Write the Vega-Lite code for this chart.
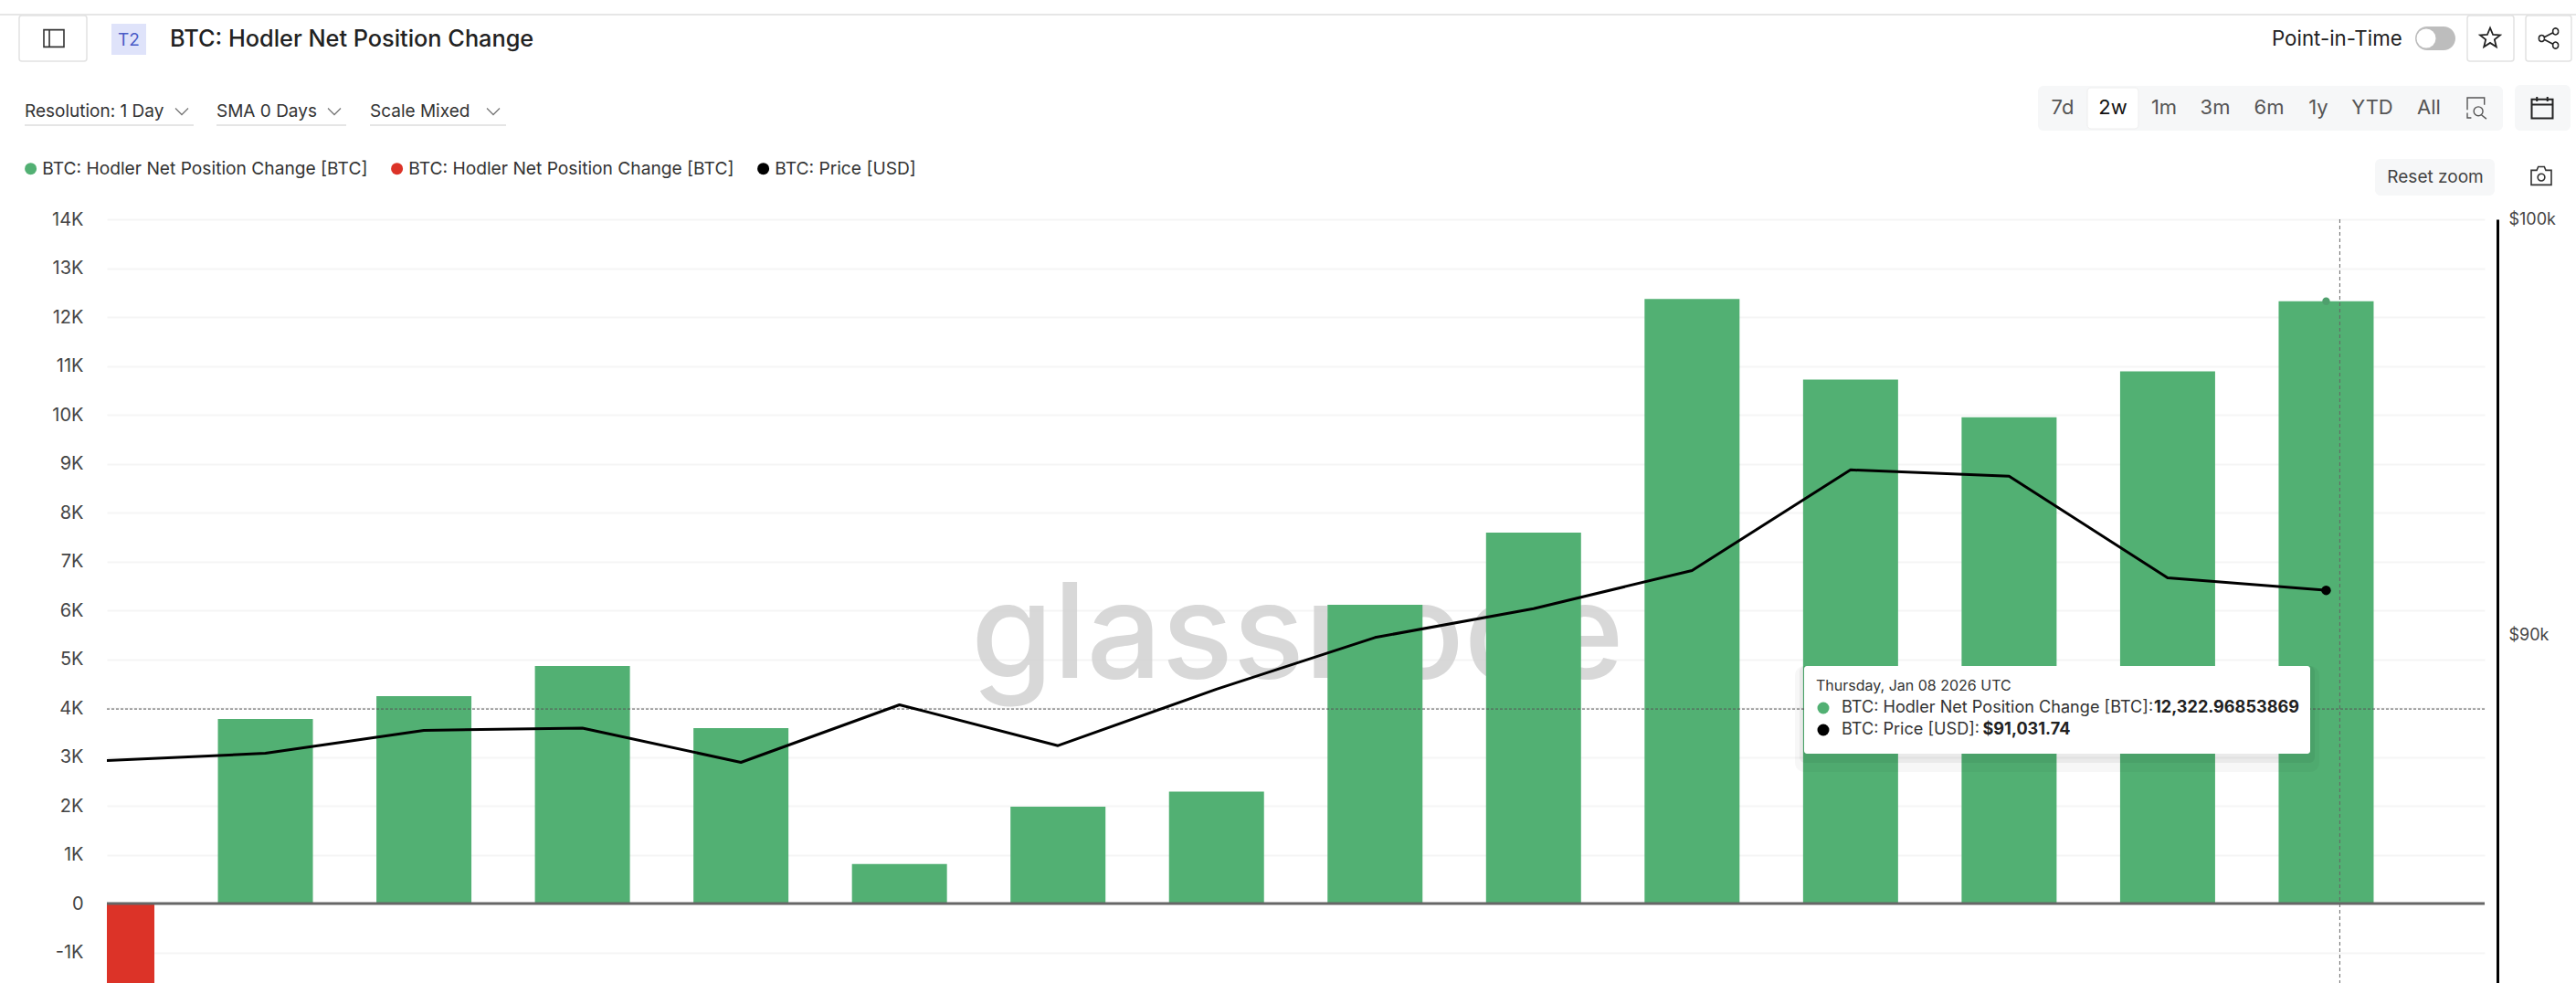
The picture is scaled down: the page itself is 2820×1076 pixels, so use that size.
{
"$schema":"https://vega.github.io/schema/vega-lite/v6.json",
"width":2603,"height":836,
"autosize":{"type":"none"},
"padding":{"left":117,"top":240,"right":100,"bottom":0},
"background":"#ffffff",
"config":{"view":{"stroke":null},"font":"Inter","text":{"font":"Inter"}},
"datasets":{"rows":[
{"date":"2025-12-25T00:00:00Z","change":-2400,"direction":"loss","price":87190},
{"date":"2025-12-26T00:00:00Z","change":3776,"direction":"gain","price":87350},
{"date":"2025-12-27T00:00:00Z","change":4243,"direction":"gain","price":87860},
{"date":"2025-12-28T00:00:00Z","change":4860,"direction":"gain","price":87910},
{"date":"2025-12-29T00:00:00Z","change":3589,"direction":"gain","price":87150},
{"date":"2025-12-30T00:00:00Z","change":810,"direction":"gain","price":88430},
{"date":"2025-12-31T00:00:00Z","change":1980,"direction":"gain","price":87520},
{"date":"2026-01-01T00:00:00Z","change":2290,"direction":"gain","price":88780},
{"date":"2026-01-02T00:00:00Z","change":6110,"direction":"gain","price":89950},
{"date":"2026-01-03T00:00:00Z","change":7590,"direction":"gain","price":90610},
{"date":"2026-01-04T00:00:00Z","change":12370,"direction":"gain","price":91490},
{"date":"2026-01-05T00:00:00Z","change":10720,"direction":"gain","price":93850},
{"date":"2026-01-06T00:00:00Z","change":9950,"direction":"gain","price":93700},
{"date":"2026-01-07T00:00:00Z","change":10890,"direction":"gain","price":91320},
{"date":"2026-01-08T00:00:00Z","change":12322.96853869,"direction":"gain","price":91031.74}
]},
"layer":[
{"layer":[
{"data":{"values":[{"when":"2026-01-01T12:15:00Z","change":4617,"mark":"glassnode"}]},
"mark":{"type":"text","fontSize":145,"fontWeight":500,"font":"Inter","color":"#d2d2d2","opacity":0.85,"align":"center","baseline":"alphabetic"},
"encoding":{"x":{"field":"when","type":"temporal","axis":null,"scale":{"type":"utc","padding":0,"domain":["2025-12-25T00:00:00Z","2026-01-09T00:00:00Z"]}},"y":{"field":"change","type":"quantitative"},"text":{"field":"mark"}}},
{"data":{"name":"rows"},
"mark":{"type":"bar","width":104,"clip":true},
"encoding":{
"x":{"field":"date","type":"temporal","axis":null,"scale":{"type":"utc","padding":0,"domain":["2025-12-25T00:00:00Z","2026-01-09T00:00:00Z"]}},
"y":{"field":"change","type":"quantitative","title":null,"scale":{"domain":[-1626,14000],"nice":false,"zero":false},
"axis":{"values":[-1000,0,1000,2000,3000,4000,5000,6000,7000,8000,9000,10000,11000,12000,13000,14000],"labelExpr":"datum.value==0?'0':(datum.value/1000)+'K'","domain":false,"ticks":false,"labelPadding":26,"labelFontSize":20,"labelFont":"Inter","labelColor":"#444444","gridColor":"#f5f5f5","gridWidth":2,"labelOverlap":false}},
"color":{"field":"direction","type":"nominal","scale":{"domain":["gain","loss","price"],"range":["#52b073","#dc3328","#000000"]},
"legend":{"title":null,"orient":"none","legendX":-93,"legendY":-65,"direction":"horizontal","symbolType":"circle","symbolSize":169,"labelFont":"Inter","labelFontSize":19.2,"labelColor":"#333333","labelOffset":3,"columnPadding":22,"labelLimit":500,"symbolStrokeWidth":0,"labelExpr":"datum.value=='price'?'BTC: Price [USD]':'BTC: Hodler Net Position Change [BTC]'","encode":{"symbols":{"update":{"fill":{"scale":"color","field":"value"},"opacity":{"value":1}}}}}}
}},
{"data":{"name":"rows"},"transform":[{"filter":{"field":"price","equal":91031.74}}],
"mark":{"type":"point","filled":true,"size":70,"color":"#4f9f6d","opacity":1},
"encoding":{"x":{"field":"date","type":"temporal"},"y":{"field":"change","type":"quantitative"}}},
{"data":{"values":[{"level":0}]},"mark":{"type":"rule","color":"#666666","strokeWidth":3},"encoding":{"y":{"field":"level","type":"quantitative"}}},
{"data":{"values":[{"level":3980}]},"mark":{"type":"rule","color":"#555555","strokeWidth":1,"strokeDash":[3,2]},"encoding":{"y":{"field":"level","type":"quantitative"}}},
{"data":{"values":[{"when":"2026-01-08T02:04:00Z"}]},"mark":{"type":"rule","color":"#666666","strokeWidth":1,"strokeDash":[4,3]},"encoding":{"x":{"field":"when","type":"temporal"}}}
]},
{"encoding":{"x":{"field":"date","type":"temporal","axis":null,"scale":{"type":"utc","domain":["2025-12-25T00:00:00Z","2026-01-09T00:00:00Z"]}},
"y":{"field":"price","type":"quantitative","title":null,"scale":{"type":"log","domain":[82414,100000],"nice":false},
"axis":{"orient":"right","values":[90000,100000],"labelExpr":"'$'+(datum.value/1000)+'k'","grid":false,"ticks":false,"domain":true,"domainColor":"#000000","domainWidth":3,"offset":14,"labelPadding":12,"labelFontSize":18,"labelFont":"Inter","labelColor":"#444444","labelOverlap":false}}},
"layer":[
{"data":{"name":"rows"},"mark":{"type":"line","strokeWidth":3,"clip":true,"strokeJoin":"round"},"encoding":{"color":{"datum":"price"}}},
{"data":{"name":"rows"},"transform":[{"filter":{"field":"price","equal":91031.74}}],"mark":{"type":"point","filled":true,"size":110,"color":"#000000","opacity":1}}
]},
{"encoding":{"x":{"field":"left","type":"quantitative","axis":null,"scale":{"domain":[117,2720],"nice":false,"zero":false}},
"y":{"field":"top","type":"quantitative","axis":null,"scale":{"domain":[1076,240],"nice":false,"zero":false}}},
"layer":[
{"data":{"values":[{"left":0,"right":2820,"top":16}]},"mark":{"type":"rule","color":"#e6e6e6","strokeWidth":2},"encoding":{"x2":{"field":"right"}}},
{"data":{"values":[{"left":21,"right":95,"top":17,"bottom":67},{"left":2701,"right":2752,"top":17,"bottom":67},{"left":2765,"right":2815,"top":17,"bottom":67}]},"mark":{"type":"rect","fill":"#ffffff","stroke":"#e2e2e2","strokeWidth":1.5,"cornerRadius":3},"encoding":{"x2":{"field":"right"},"y2":{"field":"bottom"}}},
{"data":{"values":[{"left":2231,"right":2740,"top":94,"bottom":143},{"left":2753,"right":2814,"top":93,"bottom":143},{"left":2600,"right":2731,"top":174,"bottom":214}]},"mark":{"type":"rect","fill":"#f6f7f8","cornerRadius":6},"encoding":{"x2":{"field":"right"},"y2":{"field":"bottom"}}},
{"data":{"values":[{"left":2285,"right":2341,"top":96,"bottom":141}]},"mark":{"type":"rect","fill":"#ffffff","stroke":"#eeeeee","cornerRadius":4},"encoding":{"x2":{"field":"right"},"y2":{"field":"bottom"}}},
{"data":{"values":[{"left":122,"right":160,"top":26,"bottom":60}]},"mark":{"type":"rect","fill":"#dfe3fa"},"encoding":{"x2":{"field":"right"},"y2":{"field":"bottom"}}},
{"data":{"values":[{"left":2644,"right":2688,"top":29,"bottom":55}]},"mark":{"type":"rect","fill":"#bdbdbd","cornerRadius":13},"encoding":{"x2":{"field":"right"},"y2":{"field":"bottom"}}},
{"data":{"values":[{"left":2656,"top":42}]},"mark":{"type":"point","filled":true,"size":440,"color":"#ffffff","opacity":1}},
{"data":{"values":[{"left":27,"right":212,"top":137},{"left":237,"right":379,"top":137},{"left":405,"right":554,"top":137}]},"mark":{"type":"rule","color":"#dddddd","strokeWidth":1.5},"encoding":{"x2":{"field":"right"}}},
{"data":{"values":[{"left":141,"top":44,"label":"T2"}]},"mark":{"type":"text","font":"Inter","fontSize":19,"color":"#4a5cc7","align":"center","baseline":"middle"},"encoding":{"text":{"field":"label"}}},
{"data":{"values":[{"left":186,"top":43,"label":"BTC: Hodler Net Position Change"}]},"mark":{"type":"text","font":"Inter","fontSize":25.3,"fontWeight":500,"color":"#222222","align":"left","baseline":"middle"},"encoding":{"text":{"field":"label"}}},
{"data":{"values":[{"left":27,"top":122,"label":"Resolution: 1 Day"},{"left":237,"top":122,"label":"SMA 0 Days"},{"left":405,"top":122,"label":"Scale Mixed"}]},"mark":{"type":"text","font":"Inter","fontSize":19,"color":"#333333","align":"left","baseline":"middle"},"encoding":{"text":{"field":"label"}}},
{"data":{"values":[{"left":2487,"top":43,"label":"Point-in-Time"}]},"mark":{"type":"text","font":"Inter","fontSize":22.3,"color":"#222222","align":"left","baseline":"middle"},"encoding":{"text":{"field":"label"}}},
{"data":{"values":[{"left":2258,"top":118,"label":"7d"},{"left":2369,"top":118,"label":"1m"},{"left":2425,"top":118,"label":"3m"},{"left":2484,"top":118,"label":"6m"},{"left":2538,"top":118,"label":"1y"},{"left":2597,"top":118,"label":"YTD"},{"left":2659,"top":118,"label":"All"}]},"mark":{"type":"text","font":"Inter","fontSize":22,"color":"#555555","align":"center","baseline":"middle"},"encoding":{"text":{"field":"label"}}},
{"data":{"values":[{"left":2313,"top":118,"label":"2w"}]},"mark":{"type":"text","font":"Inter","fontSize":22,"color":"#111111","align":"center","baseline":"middle"},"encoding":{"text":{"field":"label"}}},
{"data":{"values":[{"left":2666,"top":194,"label":"Reset zoom"}]},"mark":{"type":"text","font":"Inter","fontSize":19,"color":"#444444","align":"center","baseline":"middle"},"encoding":{"text":{"field":"label"}}},
{"data":{"values":[{"left":199,"top":122},{"left":366,"top":122},{"left":540,"top":122}]},"mark":{"type":"point","shape":"M-1,-.5L0,.5L1,-.5","size":196,"filled":false,"color":"#777777","strokeWidth":1.3,"opacity":1}},
{"data":{"values":[{"left":59,"top":42}]},"mark":{"type":"point","shape":"M-1,-.85H1V.85H-1Z M-.45,-.85V.85","size":484,"filled":false,"color":"#333333","strokeWidth":1.6,"opacity":1}},
{"data":{"values":[{"left":2726,"top":42}]},"mark":{"type":"point","shape":"M0,-1L.27,-.35L.95,-.31L.42,.12L.59,.81L0,.43L-.59,.81L-.42,.12L-.95,-.31L-.27,-.35Z","size":529,"filled":false,"color":"#222222","strokeWidth":1.8,"opacity":1}},
{"data":{"values":[{"left":2790,"top":42}]},"mark":{"type":"point","shape":"M-.5,-.1L.5,-.62M-.5,.1L.5,.62M-.45,0A.28,.28 0 1 1 -1,0A.28,.28 0 1 1 -.45,0M1,-.72A.28,.28 0 1 1 .45,-.72A.28,.28 0 1 1 1,-.72M1,.72A.28,.28 0 1 1 .45,.72A.28,.28 0 1 1 1,.72","size":441,"filled":false,"color":"#222222","strokeWidth":1.6,"opacity":1}},
{"data":{"values":[{"left":2783,"top":118}]},"mark":{"type":"point","shape":"M-1,-.8H1V1H-1ZM-1,-.3H1M-.5,-1.05V-.6M.5,-1.05V-.6","size":529,"filled":false,"color":"#222222","strokeWidth":2,"opacity":1}},
{"data":{"values":[{"left":2782,"top":193}]},"mark":{"type":"point","shape":"M-1,-.6H-.45L-.3,-.95H.3L.45,-.6H1V.85H-1ZM.35,.1A.35,.35 0 1 1 -.35,.1A.35,.35 0 1 1 .35,.1","size":484,"filled":false,"color":"#333333","strokeWidth":1.6,"opacity":1}},
{"data":{"values":[{"left":2712,"top":118}]},"mark":{"type":"point","shape":"M-1,.2V-1H.7V-.3M-1,.5V1H-.6M.55,.35A.45,.45 0 1 1 -.35,.35A.45,.45 0 1 1 .55,.35M.4,.7L.9,1.1","size":484,"filled":false,"color":"#555555","strokeWidth":1.4,"opacity":1}},
{"data":{"values":[{"left":1965,"right":2539,"top":729,"bottom":845}]},"mark":{"type":"rect","fill":"#000000","opacity":0.03,"cornerRadius":10},"encoding":{"x2":{"field":"right"},"y2":{"field":"bottom"}}},
{"data":{"values":[{"left":1970,"right":2534,"top":729,"bottom":835}]},"mark":{"type":"rect","fill":"#000000","opacity":0.05,"cornerRadius":6},"encoding":{"x2":{"field":"right"},"y2":{"field":"bottom"}}},
{"data":{"values":[{"left":1975,"right":2529,"top":729,"bottom":825}]},"mark":{"type":"rect","fill":"#ffffff","cornerRadius":3},"encoding":{"x2":{"field":"right"},"y2":{"field":"bottom"}}},
{"data":{"values":[{"left":1988,"top":751,"label":"Thursday, Jan 08 2026 UTC"}]},"mark":{"type":"text","font":"Inter","fontSize":16,"color":"#333333","align":"left","baseline":"middle"},"encoding":{"text":{"field":"label"}}},
{"data":{"values":[{"left":1996,"top":775}]},"mark":{"type":"point","filled":true,"size":169,"color":"#52b073","opacity":1}},
{"data":{"values":[{"left":1996,"top":799}]},"mark":{"type":"point","filled":true,"size":169,"color":"#000000","opacity":1}},
{"data":{"values":[{"left":2016,"top":775,"label":"BTC: Hodler Net Position Change [BTC]:"},{"left":2016,"top":799,"label":"BTC: Price [USD]:"}]},"mark":{"type":"text","font":"Inter","fontSize":18.1,"color":"#333333","align":"left","baseline":"middle"},"encoding":{"text":{"field":"label"}}},
{"data":{"values":[{"left":2358,"top":775,"label":"12,322.96853869"},{"left":2170.5,"top":799,"label":"$91,031.74"}]},"mark":{"type":"text","font":"Inter","fontSize":18.1,"fontWeight":700,"color":"#222222","align":"left","baseline":"middle"},"encoding":{"text":{"field":"label"}}}
]}
],
"resolve":{"scale":{"x":"independent","y":"independent"}}
}
